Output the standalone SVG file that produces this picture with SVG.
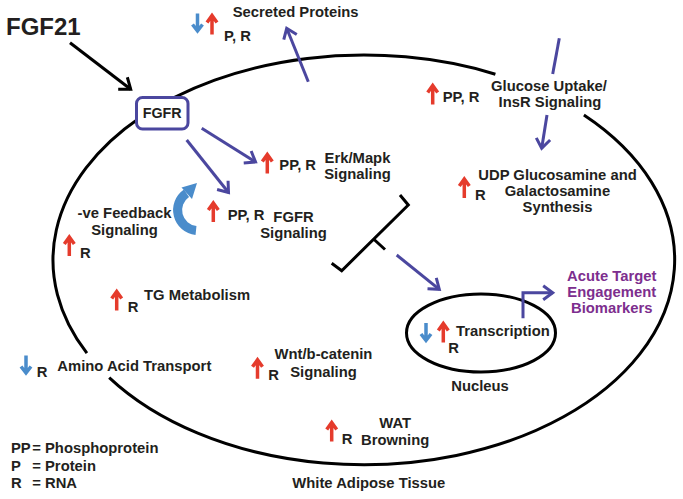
<svg xmlns="http://www.w3.org/2000/svg" xmlns:xlink="http://www.w3.org/1999/xlink" width="683" height="499" viewBox="0 0 683 499">
<style>
.t{font-family:"Liberation Sans",Arial,sans-serif;font-weight:bold;font-size:14.8px;fill:#231f20}
.m{text-anchor:middle}
.pu{fill:#7d2e8e}
.ln{fill:none;stroke:#000;stroke-width:3}
.pl{fill:none;stroke:#4b479f;stroke-width:3}
.pa{fill:none;stroke:#4b479f;stroke-width:3;marker-end:url(#ahp)}
</style>
<defs>
<marker id="ahp" viewBox="-12 -8 14 16" refX="0" refY="0" markerWidth="14" markerHeight="16" markerUnits="userSpaceOnUse" orient="auto" overflow="visible">
<path d="M-9.5,-7 L0,0 L-9.5,7" fill="none" stroke="#4b479f" stroke-width="3"/>
</marker>
<marker id="ahk" viewBox="-12 -8 14 16" refX="0" refY="0" markerWidth="14" markerHeight="16" markerUnits="userSpaceOnUse" orient="auto" overflow="visible">
<path d="M-10,-7.5 L0,0 L-10,7.5" fill="none" stroke="#000" stroke-width="3"/>
</marker>
<path id="up" d="M0,2 V21 M-5,9 L0,2 L5,9" fill="none" stroke="#e53b2c" stroke-width="3.5"/>
<path id="dn" d="M0,0 V17 M-5,11 L0,17.5 L5,11" fill="none" stroke="#4a8ccb" stroke-width="3.5"/>
</defs>
<rect width="683" height="499" fill="#fff"/>

<g id="cell">
<path class="ln" d="M583.9,115 A311 205 0 1 1 109.2,377.6 M86.9,353.1 A311 205 0 0 1 495.4,74.2"/>
<text class="t m" x="368.8" y="488.3">White Adipose Tissue</text>
</g>

<g id="nucleus">
<ellipse class="ln" cx="481" cy="333" rx="74.5" ry="39"/>
<text class="t m" x="480" y="391">Nucleus</text>
</g>

<g id="connectors">
<line x1="70" y1="42.7" x2="130.7" y2="89.3" class="ln" marker-end="url(#ahk)"/>
<line class="pa" x1="201.7" y1="128.3" x2="255.5" y2="162"/>
<line class="pa" x1="186.7" y1="140" x2="228.5" y2="192.5"/>
<line class="pa" x1="308.3" y1="81.7" x2="286.7" y2="28.3"/>
<line class="pl" x1="559.3" y1="38.3" x2="552.7" y2="74"/>
<line class="pa" x1="547" y1="115" x2="541.7" y2="148.3"/>
<line class="pa" x1="396.7" y1="255" x2="439.3" y2="289.3"/>
<path class="pa" d="M523,318.3 V292.7 H552.7"/>
<path class="ln" d="M400,195 L408.3,205 L341.7,270.7 L331.7,263.3 M373,238.5 L385,249.5"/>
<path d="M196,230.5 A20.5 20.5 0 0 1 186.5,193.2" fill="none" stroke="#4a8ccb" stroke-width="9"/>
<path d="M181.5,187.5 L197,183 L192,199 Z" fill="#4a8ccb"/>
</g>

<g id="fgf21">
<text class="t" x="6" y="35" style="font-size:24px">FGF21</text>
</g>

<g id="fgfr">
<rect x="136.5" y="97.5" width="51.5" height="31.5" rx="6" fill="#fff" stroke="#4b479f" stroke-width="3"/>
<text class="t m" x="162.2" y="118" style="font-size:14.3px">FGFR</text>
</g>

<g id="secreted">
<use xlink:href="#dn" x="197.5" y="13.5"/>
<use xlink:href="#up" x="212" y="13.5"/>
<text class="t" x="224" y="40.7">P, R</text>
<text class="t" x="232.7" y="17.3">Secreted Proteins</text>
</g>

<g id="glucose">
<use xlink:href="#up" x="432.7" y="83.5"/>
<text class="t" x="442.7" y="101.7">PP, R</text>
<text class="t m" x="549" y="90.7">Glucose Uptake/</text>
<text class="t m" x="550" y="107.3">InsR Signaling</text>
</g>

<g id="udp">
<use xlink:href="#up" x="464.3" y="177"/>
<text class="t" x="475" y="200">R</text>
<text class="t m" x="557.5" y="180">UDP Glucosamine and</text>
<text class="t m" x="557.5" y="196">Galactosamine</text>
<text class="t m" x="557.5" y="211.7">Synthesis</text>
</g>

<g id="erk">
<use xlink:href="#up" x="267.3" y="152.5"/>
<text class="t" x="279.3" y="170">PP, R</text>
<text class="t m" x="357.5" y="162.7">Erk/Mapk</text>
<text class="t m" x="357.5" y="179.3">Signaling</text>
</g>

<g id="fgfr-signaling">
<use xlink:href="#up" x="213.3" y="201"/>
<text class="t" x="227.7" y="220">PP, R</text>
<text class="t m" x="293.5" y="221.7">FGFR</text>
<text class="t m" x="293.5" y="238.3">Signaling</text>
</g>

<g id="feedback">
<text class="t m" x="124.5" y="218.3">-ve Feedback</text>
<text class="t m" x="124.5" y="235">Signaling</text>
<use xlink:href="#up" x="69.3" y="235"/>
<text class="t" x="80" y="258.3">R</text>
</g>

<g id="tg">
<use xlink:href="#up" x="116.7" y="289.5"/>
<text class="t" x="127.7" y="312.3">R</text>
<text class="t" x="144" y="300">TG Metabolism</text>
</g>

<g id="amino">
<use xlink:href="#dn" x="26" y="355.5"/>
<text class="t" x="36.7" y="376.7">R</text>
<text class="t" x="57.3" y="370.7">Amino Acid Transport</text>
</g>

<g id="wnt">
<use xlink:href="#up" x="257.5" y="357.8"/>
<text class="t" x="268.3" y="380.3">R</text>
<text class="t m" x="323.5" y="359.3">Wnt/b-catenin</text>
<text class="t m" x="323.5" y="376.7">Signaling</text>
</g>

<g id="wat">
<use xlink:href="#up" x="331.7" y="420.5"/>
<text class="t" x="341.7" y="444.3">R</text>
<text class="t m" x="395.2" y="428.3">WAT</text>
<text class="t m" x="395.2" y="445">Browning</text>
</g>

<g id="transcription">
<use xlink:href="#dn" x="426" y="323"/>
<use xlink:href="#up" x="443.3" y="321.5"/>
<text class="t" x="456" y="336">Transcription</text>
<text class="t" x="448.3" y="352.7">R</text>
</g>

<g id="biomarkers">
<text class="t m pu" x="611.7" y="280.7">Acute Target</text>
<text class="t m pu" x="611.7" y="296.7">Engagement</text>
<text class="t m pu" x="611.7" y="312.7">Biomarkers</text>
</g>

<g id="legend">
<text class="t" y="452.7"><tspan x="11">PP</tspan><tspan x="32.3">=</tspan><tspan x="45">Phosphoprotein</tspan></text>
<text class="t" y="470.7"><tspan x="11">P</tspan><tspan x="32.3">=</tspan><tspan x="45">Protein</tspan></text>
<text class="t" y="488.3"><tspan x="11">R</tspan><tspan x="32.3">=</tspan><tspan x="45">RNA</tspan></text>
</g>
</svg>
